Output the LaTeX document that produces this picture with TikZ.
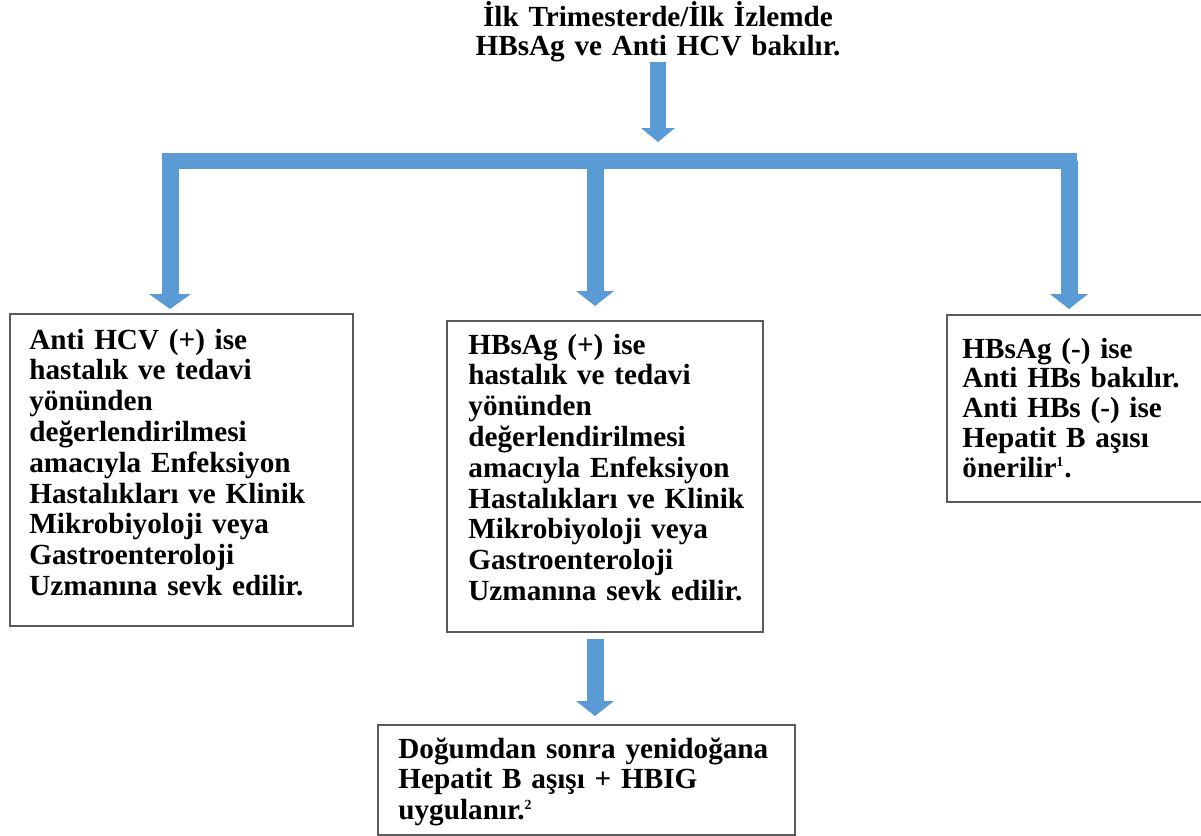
\documentclass[tikz,border=0pt]{standalone}
\usepackage{fontspec}
\setmainfont{Liberation Serif}
\usetikzlibrary{arrows.meta,positioning,calc}
\definecolor{arrowblue}{HTML}{5B9BD5}
\definecolor{boxgray}{HTML}{5A5A5A}

\begin{document}
\begin{tikzpicture}[
  x=0.5pt, y=-0.5pt,
  every node/.style={font=\fontsize{14.6pt}{15.4pt}\selectfont\bfseries},
  box/.style={draw=boxgray, line width=1pt, rectangle, inner sep=0pt},
  boxtext/.style={anchor=base west, inner sep=0pt, align=left, text width=#1},
  blockarrow/.style={draw=arrowblue, line width=8.5pt,
    -{Triangle[width=19pt,length=7.5pt,line width=0pt]}},
  bar/.style={draw=arrowblue, line width=8pt, line cap=rect}
  ]
  \useasboundingbox (0,0) rectangle (1201,836);

  % title
  \node[text width=220pt, align=center, anchor=base, inner sep=0pt,
    font=\fontsize{14.6pt}{14.6pt}\selectfont\bfseries] (title) at (658,26)
    {İlk Trimesterde/İlk İzlemde\\HBsAg ve Anti HCV bakılır.};

  % boxes
  \node[box, minimum width=171.5pt, minimum height=156pt] (hcvbox) at (181.5,470) {};
  \node[box, minimum width=158pt, minimum height=155.5pt] (hbsbox) at (605,476.5) {};
  \node[box, minimum width=134pt, minimum height=93.5pt] (antibox) at (1081,408.5) {};
  \node[box, minimum width=208.5pt, minimum height=55pt] (babybox) at (586.5,780) {};

  \node[boxtext=165pt] (hcvtext) at (29,349) {Anti HCV (+) ise\\hastalık ve tedavi\\yönünden\\değerlendirilmesi\\amacıyla Enfeksiyon\\Hastalıkları ve Klinik\\Mikrobiyoloji veya\\Gastroenteroloji\\Uzmanına sevk edilir.};
  \node[boxtext=150pt] (hbstext) at (468,354) {HBsAg (+) ise\\hastalık ve tedavi\\yönünden\\değerlendirilmesi\\amacıyla Enfeksiyon\\Hastalıkları ve Klinik\\Mikrobiyoloji veya\\Gastroenteroloji\\Uzmanına sevk edilir.};
  \node[boxtext=120pt, font=\fontsize{14.6pt}{14.9pt}\selectfont\bfseries] (antitext) at (962,358) {HBsAg (-) ise\\Anti HBs bakılır.\\Anti HBs (-) ise\\Hepatit B aşısı\\önerilir\textsuperscript{\scriptsize 1}.};
  \node[boxtext=200pt] (babytext) at (398,758) {Doğumdan sonra yenidoğana\\Hepatit B aşışı + HBIG\\uygulanır.\textsuperscript{\scriptsize 2}};

  % bar and arrows
  \coordinate (barleft) at (170,160.5);
  \coordinate (barmid) at (658,160.5);
  \coordinate (barcenter) at (595,160.5);
  \coordinate (barright) at (1069,160.5);

  \draw[bar] (barleft) -- (barright);
  \draw[blockarrow, line width=8pt, -{Triangle[width=17pt,length=7pt,line width=0pt]},
    shorten >=9.25pt] (title.south) -- (barmid);
  \draw[blockarrow, -{Triangle[width=21pt,length=7.5pt,line width=0pt]},
    shorten >=2pt] (barleft) -- (barleft |- hcvbox.north);
  \draw[blockarrow, shorten >=7pt] (barcenter) -- (barcenter |- hbsbox.north);
  \draw[blockarrow, shorten >=2.5pt] (barright) -- (barright |- antibox.north);
  \draw[blockarrow, shorten <=3pt, shorten >=4pt]
    (barcenter |- hbsbox.south) -- (barcenter |- babybox.north);

\end{tikzpicture}
\end{document}
